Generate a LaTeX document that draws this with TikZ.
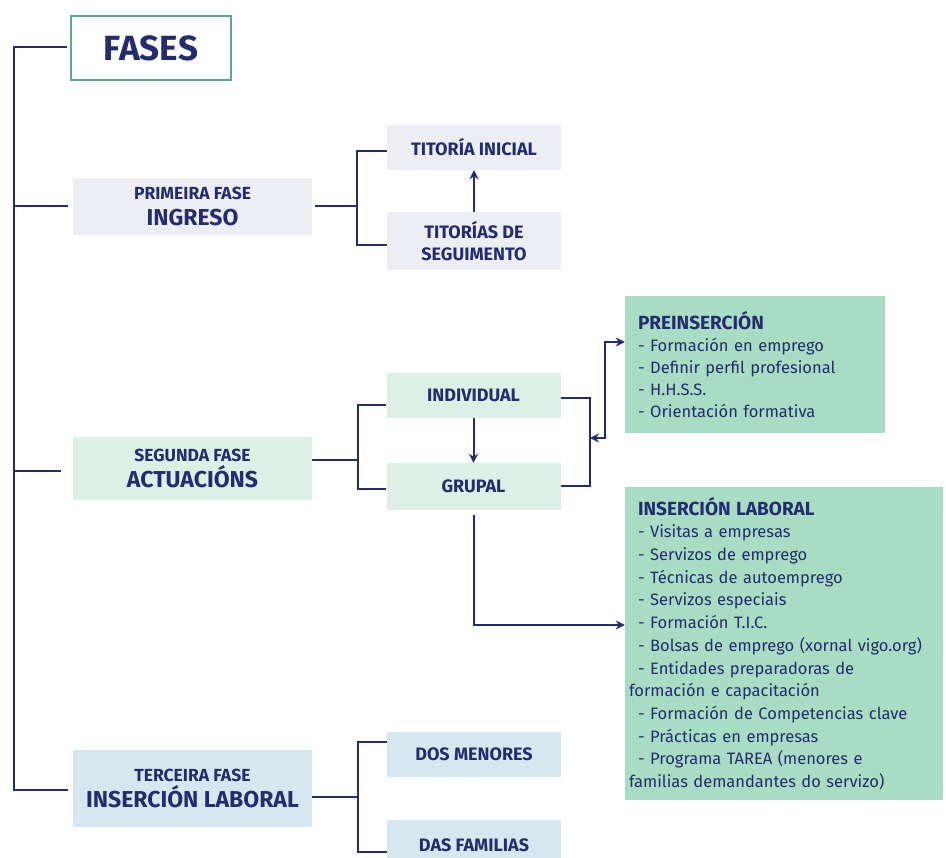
\documentclass[tikz,border=0pt]{standalone}
\usepackage{fontspec}
\setmainfont{Fira Sans}
\usetikzlibrary{arrows.meta}
\definecolor{navy}{HTML}{232C6E}
\definecolor{fasesborder}{HTML}{5DA88C}
\definecolor{grayfill}{HTML}{ECEEF4}
\definecolor{mintfill}{HTML}{DDF0E6}
\definecolor{greenfill}{HTML}{A8DCC3}
\definecolor{bluefill}{HTML}{D5E8F0}
\newcommand\phasebig{\fontsize{23}{26}\selectfont}
\newcommand\infotitle{\fontsize{19}{22}\selectfont\bfseries}
\begin{document}
\begin{tikzpicture}[x=1pt,y=-1pt,
  conn/.style={draw=navy, line width=2pt},
  arr/.style={conn, -{Stealth[length=9pt,width=9pt]}},
  biarr/.style={conn, {Stealth[length=9pt,width=9pt]}-{Stealth[length=9pt,width=9pt]}},
  box/.style={rectangle, inner sep=0pt, text=navy, align=center, font=\bfseries\fontsize{18}{22}\selectfont},
  phase/.style={box, minimum width=239, font=\bfseries\fontsize{17.5}{26}\selectfont},
  small/.style={box, minimum width=174},
  infobox/.style={rectangle, fill=greenfill, inner xsep=4pt, inner ysep=0pt, align=left, text=navy, font=\fontsize{16.5}{22}\selectfont}
]
\fill[white] (0,0) rectangle (946,858);
\useasboundingbox (0,0) rectangle (946,858);

% title
\node[box, draw=fasesborder, line width=1.5pt, fill=white, minimum width=160, minimum height=64, font=\bfseries\fontsize{35}{40}\selectfont] (fases) at (151,48) {FASES};

% phases
\node[phase, fill=grayfill, minimum height=57] (primeira) at (192.5,206.5) {PRIMEIRA FASE\\{\phasebig INGRESO}};
\node[phase, fill=mintfill, minimum height=63] (segunda) at (192.5,468.5) {SEGUNDA FASE\\{\phasebig ACTUACIÓNS}};
\node[phase, fill=bluefill, minimum height=77] (terceira) at (192.5,788.5) {TERCEIRA FASE\\{\phasebig INSERCIÓN LABORAL}};

% first phase children
\node[small, fill=grayfill, minimum height=45] (titini) at (474,147.5) {TITORÍA INICIAL};
\node[small, fill=grayfill, minimum height=58] (titseg) at (474,241) {TITORÍAS DE\\SEGUIMENTO};

% second phase children
\node[small, fill=mintfill, minimum height=45] (individual) at (473.5,395.5) {INDIVIDUAL};
\node[small, fill=mintfill, minimum height=47] (grupal) at (473.5,486.5) {GRUPAL};

% third phase children
\node[small, fill=bluefill, minimum height=45] (menores) at (474,754.5) {DOS MENORES};
\node[small, fill=bluefill, minimum height=50] (familias) at (474,845) {DAS FAMILIAS};

% info boxes
\node[infobox, minimum width=260, minimum height=137, text width=252] (prein) at (755,364.5)
{\hspace*{9pt}{\infotitle PREINSERCIÓN}\\
\hspace*{9pt}- Formación en emprego\\
\hspace*{9pt}- Definir perfil profesional\\
\hspace*{9pt}- H.H.S.S.\\
\hspace*{9pt}- Orientación formativa};

\node[infobox, minimum width=318, minimum height=313, text width=310, font=\fontsize{16.5}{22.7}\selectfont] (inslab) at (784,643.5)
{\hspace*{9pt}{\infotitle INSERCIÓN LABORAL}\\
\hspace*{9pt}- Visitas a empresas\\
\hspace*{9pt}- Servizos de emprego\\
\hspace*{9pt}- Técnicas de autoemprego\\
\hspace*{9pt}- Servizos especiais\\
\hspace*{9pt}- Formación T.I.C.\\
\hspace*{9pt}- Bolsas de emprego (xornal vigo.org)\\
\hspace*{9pt}- Entidades preparadoras de\\
formación e capacitación\\
\hspace*{9pt}- Formación de Competencias clave\\
\hspace*{9pt}- Prácticas en empresas\\
\hspace*{9pt}- Programa TAREA (menores e\\
familias demandantes do servizo)};

% anchor points
\coordinate (fw) at ([yshift=1pt]fases.west);
\coordinate (tw) at ([yshift=-1.5pt]terceira.west);
\coordinate (sw) at ([yshift=-2.5pt]segunda.west);
\coordinate (tiw) at ([yshift=-4pt]titini.west);
\coordinate (tsw) at ([yshift=-4pt]titseg.west);
\coordinate (se) at ([yshift=8.5pt]segunda.east);
\coordinate (iw) at ([yshift=-9.5pt]individual.west);
\coordinate (gw) at ([yshift=-2.5pt]grupal.west);
\coordinate (ie) at ([yshift=-3pt]individual.east);
\coordinate (pw) at ([yshift=22.5pt]prein.west);
\coordinate (lw) at ([yshift=18.5pt]inslab.west);
\coordinate (te) at ([yshift=-8.5pt]terceira.east);
\coordinate (mw) at ([yshift=12.5pt]menores.west);
\coordinate (faw) at ([yshift=-7pt]familias.west);

% spine
\coordinate (sp) at (14,0);
\draw[conn, shorten <=3pt, shorten >=5pt] (fw) -- (fw -| sp) |- (tw);
\draw[conn, shorten <=5pt] (primeira.west) -- (primeira.west -| sp);
\draw[conn, shorten <=12pt] (sw) -- (sw -| sp);

% first phase bracket
\coordinate (b1) at (357,0);
\draw[conn, shorten <=3pt] (primeira.east) -- (primeira.east -| b1);
\draw[conn] (tiw) -| (b1 |- tsw) -- (tsw);
\draw[arr] (titseg.north) -- (titini.south);

% second phase bracket
\coordinate (b2) at (358,0);
\draw[conn] (se) -- (se -| b2);
\draw[conn] (iw) -| (b2 |- gw) -- (gw);
\draw[arr] (individual.south) -- (grupal.north);

% right joint
\coordinate (rj) at (590,438);
\draw[conn] (ie) -| (rj |- grupal.east) -- (grupal.east);
\draw[biarr] (rj) -- ++(15,0) |- (pw);
\draw[arr, shorten <=5pt] (grupal.south) |- (lw);

% third phase bracket
\coordinate (b3) at (358,0);
\draw[conn] (te) -- (te -| b3);
\draw[conn] (mw) -| (b3 |- faw) -- (faw);
\end{tikzpicture}
\end{document}
